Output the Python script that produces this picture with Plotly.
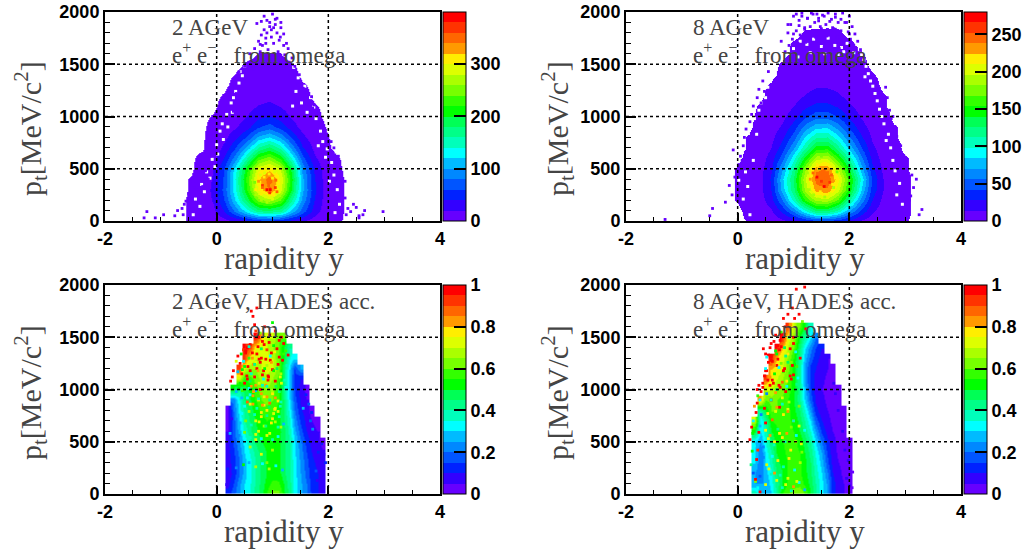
import plotly.graph_objects as go

W, H = 1022, 550
PALETTE = ["#6600ff","#3300ff","#0022ff","#0055ff","#0088ff","#00bbff","#00ffff","#00ffbb","#00ff88","#00ff55",
           "#00ff00","#33ff00","#77ff00","#aaff00","#ddff00","#ffee00","#ff9900","#ff6600","#ff3300","#ff0000"]

PT_ROWS = [0,100,200,300,400,500,600,700,800,900,1000,1100,1200,1300,1400,1500,1600,1700,1800,1900,2000]

# ---- 2 AGeV full
A_Y = [-0.66,-0.46,-0.26,-0.06,0.14,0.34,0.54,0.74,0.94,1.14,1.34,1.54,1.74,1.94,2.14,2.34,2.54]
A_Z = [
[0,2,3,6,12,20,32,46,52,42,30,20,10,5,2,0,0],
[0,2,6,15,40,85,130,170,175,165,115,70,30,10,3,0,0],
[0,2,8,22,60,120,190,250,270,240,165,95,40,12,3,0,0],
[0,1.5,8,25,68,135,220,300,345,290,200,105,45,14,3,0,0],
[0,1.5,7,22,65,140,230,315,350,300,210,105,42,12,3,0,0],
[0,0,5,20,60,130,215,295,312,280,195,95,38,10,2,0,0],
[0,0,3,12,42,90,160,228,250,215,140,68,24,6,1.5,0,0],
[0,0,0,7,25,60,110,163,186,155,96,43,15,2,0,0,0],
[0,0,0,5,15,33,63,104,120,97,57,25,8,1.5,0,0,0],
[0,0,0,3,8,18,33,58,70,53,30,13,5,1,0,0,0],
[0,0,0,1.5,5,10,21,35,42,32,18,8,3,0,0,0,0],
[0,0,0,0,3,7,13,21,25,19,11,5,1.5,0,0,0,0],
[0,0,0,0,1.5,5,8,12,14,11,7,3,0,0,0,0,0],
[0,0,0,0,0,2.5,4,7,8,7,5,1.5,0,0,0,0,0],
[0,0,0,0,0,1.2,3,4,5,4.5,3,0,0,0,0,0,0],
[0,0,0,0,0,0,1.5,2,2,2,1.2,0,0,0,0,0,0],
[0,0,0,0,0,0,0,1.1,1.2,1.1,0,0,0,0,0,0,0],
[0]*17,[0]*17,[0]*17,[0]*17]
A_PY = [-1.3,-1.25,-1.1,-0.95,-0.75,-0.7,-0.62,-0.6,-0.58,-0.5,-0.55,-0.5,-0.45,-0.4,-0.42,-0.35,-0.3,-0.32,-0.25,-0.2,-0.15,-0.1,-0.12,-0.05,-0.02,0.02,0.05,
        2.3,2.35,2.32,2.4,2.45,2.5,2.55,2.62,2.65,2.98,2.55,2.25,2.2,2.22,2.3,2.12,2.18,2.1,2.05,2.08,2.15,
        0.25,0.3,0.35,0.32,0.45,0.4,0.5,0.55,0.58,0.6,0.65,0.68,0.72,0.75,0.78,0.8,0.82,0.85,0.88,0.9,0.92,0.95,0.98,1.0,1.02,1.05,1.08,1.1,1.12,1.15,1.18,1.2,1.22,1.25,1.28,1.3,1.32,1.35,1.38,1.4,1.45,1.48,1.5,1.55,1.58,1.6,1.62,1.65,1.7,1.72,1.75,1.78,0.72,0.78,0.85,0.9,0.95,1.02,1.08,1.14,1.2,1.05,0.98,0.88,0.8,1.25,1.15]
A_PPT = [30,90,30,60,50,100,120,60,160,90,190,260,210,320,380,300,250,440,330,480,400,520,620,700,560,680,800,
         220,120,60,90,160,130,50,60,100,90,30,300,500,420,380,560,620,700,760,640,540,
         1180,1050,1220,1300,1350,1430,1480,1390,1520,1600,1450,1650,1560,1720,1620,1780,1680,1830,1750,1920,1640,1860,1760,1980,1700,1880,1800,1620,1730,1850,1560,1680,1590,1500,1650,1520,1440,1560,1370,1480,1300,1400,1340,1270,1180,1230,1120,1150,1190,1080,1110,1040,1890,1690,1960,1800,1900,1850,1940,1760,1790,1930,1830,1700,1910,1700,1900]
A_HY = [-0.42,-0.38,-0.3,-0.27,-0.22,-0.18,-0.12,-0.08,-0.03,0.0,0.02,0.06,0.12,0.1,0.18,0.2,0.26,0.28,0.34,0.3,0.4,0.42,0.46,0.5,
        2.2,2.16,2.12,2.1,2.06,2.02,1.98,1.95,1.9,1.86,1.82,1.78,1.74,1.68,1.62,1.58,1.52,1.46,1.42,1.38,1.36,2.14,2.0,1.7,1.56]
A_HPT = [60,210,140,350,280,470,410,590,520,730,640,860,780,930,1020,900,1130,1040,1240,1180,1320,1430,1390,1480,
         160,300,80,440,560,380,690,610,760,860,720,980,1090,1180,1040,1290,1130,1370,1240,1470,1100,660,860,1310,1420]
A_NY = [0.7,0.75,0.8,0.82,0.85,0.88,0.9,0.92,0.95,0.98,1.0,1.02,1.05,1.08,1.1,1.12,0.78,0.86,0.94,1.04,0.7,0.8,0.9,1.0,1.1,1.15,0.68,0.82,0.96,1.06]
A_NPT = [300,380,260,340,420,230,300,370,270,340,410,250,320,280,360,330,440,460,450,470,250,200,180,210,240,410,370,320,300,390]
A_NV = [300,330,310,370,300,290,385,350,360,330,300,310,365,340,310,290,290,285,300,280,260,270,260,280,270,280,250,340,390,345]

# ---- 8 AGeV full
B_Y = [-0.2,0,0.2,0.4,0.6,0.8,1.0,1.2,1.4,1.6,1.8,2.0,2.2,2.4,2.6,2.8,3.0,3.2,3.4]
B_Z = [
[0,0,1,2,5,10,18,28,36,38,32,22,12,6,3,1.5,1,0,0],
[0,0,2,5,12,30,60,95,125,125,105,70,38,16,6,3,1.5,0,0],
[0,1,3,8,22,55,105,155,185,190,165,115,65,28,10,4,1.5,0,0],
[0,1,3,10,28,75,125,185,230,235,200,150,85,36,14,5,1.5,0,0],
[0,1,3,10,30,80,130,195,245,250,215,160,95,40,14,5,1.5,0,0],
[0,1,3,9,26,68,118,180,235,240,195,140,78,32,11,3,1,0,0],
[0,0,2,7,20,50,95,145,190,195,155,108,60,24,8,2,1,0,0],
[0,0,1,5,14,35,70,110,148,150,118,80,44,17,6,2,0,0,0],
[0,0,1,3.5,10,24,50,85,110,112,88,58,30,12,4,1,0,0,0],
[0,0,0,2.5,7,16,36,62,80,82,64,40,20,8,3,1,0,0,0],
[0,0,0,1.5,4,10,23,40,52,52,42,26,13,5,2,0,0,0,0],
[0,0,0,1,2.5,6,14,25,32,32,26,16,8,3.5,1,0,0,0,0],
[0,0,0,0,2,4,9,15,20,20,16,10,5.5,2.5,1,0,0,0,0],
[0,0,0,0,1,3,6,9,12,12,10,6,3.5,2,0,0,0,0,0],
[0,0,0,0,0,1.5,4,6,8,8,6,4,2.5,1,0,0,0,0,0],
[0,0,0,0,0,1,2.5,4,5,5,4,3,1.5,0,0,0,0,0,0],
[0,0,0,0,0,0,1.2,1.5,2,2,2,1.5,1,0,0,0,0,0,0],
[0,0,0,0,0,0,1,1.3,1.6,1.6,1.6,1.3,0,0,0,0,0,0,0],
[0,0,0,0,0,0,0,1,1.2,1.3,1.2,0,0,0,0,0,0,0,0],
[0]*19,[0]*19]
B_PY = [-1.3,-0.5,-0.45,-0.22,-0.1,-0.15,-0.05,0.02,0.05,-0.08,-0.02,0.1,0.08,0.12,0.15,0.18,0.22,0.25,0.3,0.28,0.35,0.38,0.42,0.45,0.48,0.55,
        3.0,3.05,3.1,3.15,3.2,3.3,3.25,3.08,3.02,3.12,2.95,2.98,2.92,2.85,2.9,2.82,2.78,2.72,2.75,2.68,2.62,2.65,
        0.8,0.85,0.78,0.9,0.92,0.95,0.98,1.0,1.02,1.05,1.08,1.1,1.12,1.15,1.18,1.2,1.22,1.25,1.28,1.3,1.32,1.35,1.38,1.4,1.42,1.45,1.48,1.5,1.52,1.55,1.58,1.6,1.62,1.65,1.68,1.7,1.72,1.75,1.78,1.8,1.82,1.85,1.88,1.9,1.92,1.95,1.98,2.0,2.02,2.05,2.08,2.1,2.15,2.2,
        0.9,1.0,1.1,1.2,1.3,1.4,1.5,1.6,1.7,1.8,1.9,2.0,1.05,1.15,1.25,1.35,1.45,1.55,1.65,1.75,1.85,1.95,1.2,1.3,1.45,1.6,1.75,1.9]
B_PPT = [15,50,120,180,250,340,420,540,620,680,480,720,580,800,880,760,950,1020,860,1100,1180,1260,1130,1340,1240,1430,
         70,160,240,320,400,110,60,200,290,440,510,620,720,810,680,900,1000,1060,980,1180,1120,1280,
         1500,1620,1720,1800,1680,1880,1740,1960,1600,1820,1700,1920,1780,1990,1640,1850,1710,1940,1590,1800,1990,1680,1900,1760,1980,1620,1860,1730,1970,1660,1880,1790,1990,1700,1930,1620,1840,1980,1750,1900,1650,1820,1990,1720,1900,1640,1810,1960,1740,1860,1680,1790,1720,1640,
         1880,1790,1870,1780,1860,1760,1840,1770,1850,1760,1720,1790,1980,1960,1940,1980,1940,1960,1910,1950,1930,1900,1835,1735,1915,1805,1835,1755]
B_HY = [0.22,0.18,0.28,0.14,0.34,0.1,0.06,0.02,0.3,0.38,0.42,0.46,0.5,0.54,0.58,0.62,0.66,0.7,0.74,0.78,0.82,
        2.95,2.9,2.85,2.82,2.78,2.74,2.7,2.66,2.62,2.58,2.54,2.5,2.46,2.42,2.38,2.34,2.3,2.28,2.26,2.22,2.18,2.12,2.08,
        1.0,1.12,1.24,1.36,1.5,1.62,1.74,1.86,1.96,1.08,1.3,1.56,1.8,1.9]
B_HPT = [60,330,580,470,830,210,640,390,980,1060,1130,1210,1180,1280,1340,1400,1460,1520,1590,1610,1680,
         160,360,250,480,580,700,830,770,930,1000,1070,1150,1220,1290,1340,1410,1480,1380,1540,1590,1640,1690,1610,
         1650,1720,1690,1740,1670,1750,1680,1660,1700,1570,1610,1600,1590,1620]
B_NY = [1.3,1.35,1.4,1.42,1.45,1.48,1.5,1.52,1.55,1.58,1.6,1.62,1.65,1.68,1.7,1.75,1.38,1.46,1.54,1.62,1.28,1.36,1.44,1.56,1.66,1.72,1.25,1.78,1.5,1.58]
B_NPT = [400,460,340,420,500,280,380,450,330,410,490,290,370,440,350,410,540,560,550,570,300,250,210,230,260,320,460,470,620,640]
B_NV = [225,250,235,270,215,220,262,240,275,245,232,225,265,245,222,215,205,200,210,205,190,195,190,195,200,195,190,180,170,175]

# ---- 2 AGeV HADES acceptance (0 = empty bin)
C_Y = [0.1,0.2,0.3,0.4,0.5,0.6,0.7,0.8,0.9,1.0,1.1,1.2,1.3,1.4,1.5,1.6,1.7,1.8,1.9,2.0]
C_PT = [0,100,200,300,400,500,600,700,800,900,1000,1100,1200,1300,1400,1500,1600]
C_Z = [
[0,.12,.18,.25,.3,.36,.42,.48,.55,.62,.62,.52,.42,.33,.27,.2,.14,.1,.05,0],
[0,.08,.15,.24,.3,.35,.41,.47,.52,.57,.56,.5,.42,.33,.26,.2,.13,.1,.08,0],
[0,.06,.12,.2,.28,.34,.4,.46,.5,.52,.52,.47,.4,.32,.25,.18,.12,.1,.08,0],
[0,.07,.13,.2,.28,.34,.4,.46,.5,.52,.52,.46,.4,.32,.24,.17,.11,.09,.08,0],
[0,.08,.14,.22,.3,.36,.42,.47,.5,.52,.51,.46,.4,.31,.23,.15,.1,.08,.06,0],
[0,.08,.16,.25,.32,.4,.46,.5,.52,.52,.51,.47,.4,.3,.21,.13,.08,.06,.03,0],
[0,.05,.18,.28,.36,.44,.49,.52,.53,.53,.52,.47,.38,.27,.17,.1,.07,.05,0,0],
[0,.04,.18,.3,.4,.46,.5,.53,.55,.54,.52,.46,.36,.23,.14,.08,.05,.03,0,0],
[0,.03,.2,.33,.42,.48,.52,.56,.58,.57,.53,.45,.33,.2,.11,.07,.03,0,0,0],
[0,0,.22,.35,.45,.5,.55,.6,.62,.6,.55,.45,.3,.17,.09,.05,0,0,0,0],
[0,0,.5,.4,.47,.52,.58,.63,.65,.62,.56,.44,.28,.15,.08,.03,0,0,0,0],
[0,0,0,.7,.55,.58,.62,.67,.68,.65,.58,.45,.28,.13,.1,0,0,0,0,0],
[0,0,0,.9,.7,.65,.65,.7,.72,.7,.62,.45,.3,.15,.25,0,0,0,0,0],
[0,0,0,0,.9,.75,.7,.7,.72,.7,.6,.5,.35,.3,0,0,0,0,0,0],
[0,0,0,0,.95,.9,.75,.7,.7,.65,.6,.5,.4,0,0,0,0,0,0,0],
[0,0,0,0,0,0,.95,.8,.7,.7,.6,.6,0,0,0,0,0,0,0,0],
[0]*20]
C_PY = [0.62,0.65,0.68,0.72,0.7,0.75,0.78,0.82,0.86,0.9,0.95,1.0,1.05,0.55,0.6,0.52,0.48,0.42,0.38,0.35,0.3,0.28,0.25,0.58,0.64,0.7,0.74,0.8,0.85,0.9,0.94,0.98,1.02,1.08,1.12,1.16,1.2,1.24,1.28,0.45,0.5,0.6,0.66,0.72,0.78,0.84,0.9,0.96,1.0,1.1,0.42,0.55,0.62,0.68,0.76,0.82,0.88,0.93,1.05,1.15,
        0.35,0.4,0.45,0.5,0.55,0.6,0.65,0.7,0.75,0.8,0.85,0.9,0.95,1.0,1.05,1.1,0.7,0.8,0.9,1.0,1.1,0.75,0.85,0.95,1.05,1.15,0.6,0.7,0.8,0.9,1.0,
        1.75,1.8,1.78,1.85,1.82,1.88,1.72,1.68,1.7,1.65,1.55,1.6,1.92,1.95,1.9,1.85,0.2,0.18,0.22,0.24,0.27,
        0.44,0.52,0.58,0.64,0.72,0.8,0.88,0.96,1.04,1.12,1.2,0.48,0.56,0.68,0.76,0.86,0.98,1.08,1.18,1.26,0.38,0.46,0.54,0.62,0.74,0.84,0.92,1.02,1.14,1.22,0.5,0.6,0.7,0.82,0.92,1.06,1.16,1.24,0.46,0.58,0.66,0.78,0.9,1.0,1.12,
        0.55,0.65,0.75,0.85,0.95,1.05,1.15,0.5,0.6,0.72,0.82,0.94,1.04,1.14,0.45,0.58,0.68,0.8,0.9,1.02,1.12,0.42,0.52,0.62,0.76,0.88,0.98,1.1,1.2,0.4,0.5,0.6,0.7,0.8,0.9,1.0,1.1,0.35,0.48,0.58,0.7,0.82,0.94,1.06,1.18]
C_PPT = [1750,1700,1620,1780,1560,1500,1540,1460,1600,1490,1520,1640,1560,1400,1430,1350,1380,1250,1320,1270,1180,1120,1080,1300,1350,1260,1410,1300,1430,1380,1450,1350,1420,1390,1470,1500,1440,1370,1330,1150,1220,1180,1240,1200,1260,1180,1230,1280,1190,1240,1060,1100,1030,1120,1060,1140,1040,1120,1080,1150,
         980,1010,920,1000,880,950,860,990,900,960,850,930,870,960,820,890,700,740,800,720,790,600,650,580,690,640,450,520,380,300,420,
         60,130,220,300,400,480,620,700,780,860,820,950,380,300,120,480,240,90,430,580,720,
         1340,1370,1410,1300,1340,1390,1290,1320,1360,1310,1340,1270,1220,1240,1290,1200,1260,1200,1280,1230,1170,1190,1130,1150,1180,1100,1130,1180,1120,1090,1060,1080,1040,1040,1090,1030,1060,1020,990,1010,980,1000,1030,990,980,
         920,940,910,930,900,920,880,840,860,820,850,830,810,840,770,790,760,780,750,770,740,680,700,660,690,650,680,640,670,560,590,540,570,530,560,520,550,250,280,300,260,290,240,270,230]
C_PV = [.98,.98,.95,.98,.9,.98,.6,.98,.98,.7,.98,.5,.98,.98,.98,.98,.9,.98,.98,.7,.98,.98,.98,.55,.98,.7,.98,.98,.98,.9,.98,.98,.5,.98,.98,.98,.98,.55,.98,.98,.5,.98,.8,.98,.98,.98,.65,.98,.98,.98,
        .5,.98,.8,.98,.7,.98,.8,.98,.98,.65,.25,.5,.25,.55,.85,.3,.8,.25,.75,.8,.75,.8,.85,.75,.7,.78,.72,.75,.78,.75,.72,.7,.65,.7,.65,.65,.65,.7,.7,.62,.65,
        .12,.07,.15,.05,.1,.12,.2,.15,.1,.15,.25,.1,.05,.12,.08,.08,.12,.05,.05,.28,.05,
        .5,.98,.35,.8,.98,.45,.98,.3,.75,.98,.55,.3,.98,.4,.98,.5,.8,.45,.98,.35,.25,.5,.98,.35,.8,.3,.98,.5,.7,.35,.98,.45,.8,.35,.98,.45,.7,.3,.55,.3,.8,.98,.35,.65,.4,
        .3,.8,.35,.75,.4,.8,.35,.3,.75,.35,.8,.45,.75,.35,.3,.65,.35,.75,.4,.7,.35,.25,.6,.35,.7,.4,.75,.35,.25,.2,.6,.35,.7,.3,.7,.35,.3,.2,.5,.28,.65,.3,.65,.3,.25]

# ---- 8 AGeV HADES acceptance (0 = empty bin)
D_Y = [0.1,0.2,0.3,0.4,0.5,0.6,0.7,0.8,0.9,1.0,1.1,1.2,1.3,1.4,1.5,1.6,1.7,1.8,1.9,2.0,2.1]
D_PT = [0,100,200,300,400,500,600,700,800,900,1000,1100,1200,1300,1400,1500,1600,1700,1800]
D_Z = [
[0,0,.4,.3,.25,.3,.42,.55,.6,.62,.65,.6,.5,.4,.32,.24,.12,.08,.05,.04,0],
[0,0,.25,.25,.25,.33,.42,.5,.55,.58,.58,.54,.48,.4,.32,.24,.12,.07,.05,.04,0],
[0,0,.25,.22,.28,.35,.45,.5,.55,.56,.56,.52,.46,.38,.3,.2,.1,.06,.04,.04,0],
[0,0,.3,.2,.3,.38,.48,.52,.55,.56,.56,.52,.45,.36,.28,.16,.08,.05,.04,.03,0],
[0,0,.3,.2,.32,.4,.5,.54,.56,.56,.55,.5,.43,.34,.25,.14,.07,.04,.04,.03,0],
[0,0,.3,.25,.35,.45,.52,.55,.56,.56,.54,.48,.4,.3,.2,.11,.06,.04,.04,.03,0],
[0,0,.5,.3,.38,.5,.54,.56,.56,.55,.5,.44,.35,.25,.14,.08,.05,.04,.03,0,0],
[0,0,.7,.3,.42,.55,.56,.56,.56,.54,.48,.4,.3,.18,.1,.06,.04,.04,.03,0,0],
[0,0,0,.4,.5,.6,.6,.58,.57,.52,.45,.36,.24,.12,.07,.05,.04,.03,.03,0,0],
[0,0,0,.8,.6,.62,.6,.58,.55,.5,.42,.3,.18,.09,.06,.04,.04,.03,0,0,0],
[0,0,0,0,.7,.7,.65,.62,.58,.52,.42,.28,.15,.08,.05,.04,.04,.03,0,0,0],
[0,0,0,0,.9,.75,.7,.65,.6,.52,.4,.25,.13,.08,.06,.04,.03,0,0,0,0],
[0,0,0,0,0,.8,.75,.7,.62,.52,.4,.25,.13,.1,.07,.05,.03,0,0,0,0],
[0,0,0,0,0,.95,.8,.72,.65,.55,.42,.28,.18,.12,.08,.05,0,0,0,0,0],
[0,0,0,0,0,0,.95,.8,.7,.6,.45,.32,.22,.15,.1,0,0,0,0,0,0],
[0,0,0,0,0,0,0,.95,.75,.65,.5,.4,.3,.2,0,0,0,0,0,0,0],
[0,0,0,0,0,0,0,0,.9,.7,.6,.5,.35,0,0,0,0,0,0,0,0],
[0]*21,[0]*21]
D_PY = [1.05,1.2,0.98,1.02,1.1,1.16,1.22,0.85,0.9,0.78,0.82,0.95,1.0,0.72,0.68,0.75,0.65,0.6,0.58,0.55,0.5,0.52,0.62,0.7,0.48,0.45,0.42,0.38,0.36,0.35,0.3,0.33,0.28,0.25,0.27,0.22,0.3,0.26,0.24,0.28,0.32,0.36,0.4,
        0.55,0.6,0.66,0.72,0.78,0.84,0.9,0.96,1.0,1.06,1.12,0.5,0.58,0.64,0.7,0.76,0.82,0.88,0.94,1.02,0.45,0.52,0.6,0.68,0.74,0.8,0.86,0.92,0.35,0.4,0.48,0.54,0.62,0.68,0.75,0.82,0.9,1.0,1.1,0.4,0.5,0.58,0.66,0.72,0.8,0.88,0.96,1.04,1.14,
        1.95,2.0,2.02,2.05,1.98,2.06,1.92,1.9,1.88,1.85,1.8,1.82,1.75,1.72,
        0.46,0.52,0.6,0.68,0.76,0.84,0.92,1.0,0.5,0.62,0.7,0.78,0.86,0.94,1.04,0.54,0.66,0.74,0.82,0.9,0.98,1.08,0.58,0.7,0.8,0.88,0.96,1.06,
        0.42,0.5,0.6,0.7,0.8,0.9,1.0,1.1,1.2,0.38,0.46,0.55,0.65,0.75,0.85,0.95,1.05,1.15,0.34,0.42,0.52,0.62,0.72,0.82,0.92,1.02,1.12,0.32,0.4,0.5,0.6,0.7,0.8,0.9,1.0,1.1,1.2,0.36,0.46,0.56,0.66,0.76,0.86,0.96,1.06]
D_PPT = [1960,1980,1780,1680,1720,1650,1580,1600,1720,1550,1680,1620,1500,1420,1520,1380,1460,1320,1400,1260,1340,1180,1090,1230,1130,1060,980,1040,940,870,840,780,700,640,580,520,460,410,280,200,120,60,20,
         1330,1280,1230,1290,1250,1200,1340,1260,1140,1220,1300,1180,1120,1060,1110,1020,1170,1080,1130,1240,1020,960,900,970,1040,920,980,880,1000,900,820,770,710,790,830,760,810,700,840,650,610,560,500,620,540,580,640,500,480,
         150,80,250,60,320,210,420,520,600,700,800,880,960,1060,
         1390,1310,1440,1370,1470,1400,1500,1440,1200,1270,1340,1410,1320,1390,1360,1090,1150,1210,1180,1260,1230,1110,1040,1000,1070,1030,1100,1050,
         760,680,900,830,860,790,700,650,610,590,450,530,470,580,500,420,560,400,330,390,280,360,320,260,340,230,300,140,170,90,190,130,60,150,70,110,40,420,350,240,200,180,90,30,120]
D_PV = [.98,.98,.98,.98,.98,.6,.98,.98,.98,.55,.98,.8,.98,.98,.98,.98,.98,.98,.98,.98,.98,.98,.98,.98,.98,.98,.98,.98,.55,.98,.8,.98,.3,.98,.5,.98,.3,.5,.4,.15,.6,.3,.98,
         .98,.98,.8,.98,.6,.98,.75,.6,.98,.55,.98,.98,.8,.98,.7,.98,.55,.75,.98,.5,.98,.2,.98,.8,.98,.7,.98,.65,.98,.3,.98,.75,.85,.7,.98,.75,.7,.85,.6,.25,.75,.8,.75,.4,.75,.8,.6,.7,.7,
         .05,.05,.03,.03,.05,.03,.05,.03,.05,.03,.05,.03,.05,.05,
         .98,.3,.98,.5,.98,.45,.35,.98,.3,.98,.5,.98,.4,.98,.3,.98,.5,.3,.98,.45,.98,.3,.98,.45,.85,.3,.98,.4,
         .2,.98,.35,.8,.35,.8,.35,.7,.3,.98,.2,.7,.35,.75,.35,.75,.3,.6,.98,.2,.7,.3,.75,.35,.75,.3,.65,.98,.15,.7,.35,.7,.35,.7,.8,.3,.25,.9,.2,.7,.8,.35,.7,.35,.7]

assert len(A_PY) == len(A_PPT) and len(A_NY) == len(A_NPT) == len(A_NV) and len(A_HY) == len(A_HPT)
assert len(B_PY) == len(B_PPT) and len(B_NY) == len(B_NPT) == len(B_NV) and len(B_HY) == len(B_HPT)
assert len(C_PY) == len(C_PPT) == len(C_PV), (len(C_PY), len(C_PPT), len(C_PV))
assert len(D_PY) == len(D_PPT) == len(D_PV), (len(D_PY), len(D_PPT), len(D_PV))

# ---- shared axes / labels
X_RANGE = [-2, 4]
PT_RANGE = [0, 2000]
X_TICKS = [-2, 0, 2, 4]
X_TICK_TEXT = ["-2", "0", "2", "4"]
PT_TICKS = [0, 500, 1000, 1500, 2000]
GRID_X = [0, 2]
GRID_PT = [500, 1000, 1500]
Y_TITLE = "p<sub>t</sub>[MeV/c<sup>2</sup>]"
X_TITLE = "rapidity y"
SERIES_LINE = "e<sup>+</sup> e<sup>−</sup>&nbsp;&nbsp;&nbsp;from omega"

def holes(rows):
    return [[None if v == 0 else v for v in r] for r in rows]

PANELS = [
    dict(x=A_Y, y=PT_ROWS, z=A_Z, zmax=399, cut=1.0, ticks=[0,100,200,300], px=(105,440,12,221), bar=443, title="2 AGeV",
         py=A_PY+A_NY, ppt=A_PPT+A_NPT, pv=[10]*len(A_PY)+A_NV, hy=A_HY, hpt=A_HPT, tx=30, ty=129),
    dict(x=B_Y, y=PT_ROWS, z=B_Z, zmax=280, cut=0.7, ticks=[0,50,100,150,200,250], px=(626,961,12,221), bar=964, title="8 AGeV",
         py=B_PY+B_NY, ppt=B_PPT+B_NPT, pv=[7]*len(B_PY)+B_NV, hy=B_HY, hpt=B_HPT, tx=557, ty=129),
    dict(x=C_Y, y=C_PT, z=holes(C_Z), zmax=1, cut=None, ticks=[0,.2,.4,.6,.8,1], px=(105,440,285,494), bar=443, title="2 AGeV, HADES acc.",
         py=C_PY, ppt=C_PPT, pv=C_PV, hy=[], hpt=[], tx=30, ty=393),
    dict(x=D_Y, y=D_PT, z=holes(D_Z), zmax=1, cut=None, ticks=[0,.2,.4,.6,.8,1], px=(626,961,285,494), bar=964, title="8 AGeV, HADES acc.",
         py=D_PY, ppt=D_PPT, pv=D_PV, hy=[], hpt=[], tx=557, ty=393),
]

def scale(cut=None):
    s = []
    if cut:
        s += [[0, "#ffffff"], [cut, "#ffffff"], [cut, PALETTE[0]]]
    else:
        s += [[0, PALETTE[0]]]
    for i, c in enumerate(PALETTE):
        if i:
            s.append([i/20, c])
        s.append([(i+1)/20, c])
    return s

BOLD = dict(family="Liberation Sans", size=18, color="black", weight="bold")
SERIF = "Liberation Serif"
TXT = "#444444"

fig = go.Figure()
layout = dict(width=W, height=H, margin=dict(l=0, r=0, t=0, b=0, autoexpand=False), paper_bgcolor="white", plot_bgcolor="white",
              showlegend=False, shapes=[], annotations=[])
for i, p in enumerate(PANELS, 1):
    x0, x1, y0, y1 = p["px"]
    xa, ya = f"x{i}", f"y{i}"
    cut = p["cut"]/p["zmax"] if p["cut"] else None
    fig.add_trace(go.Heatmap(x=p["x"], y=p["y"], z=p["z"], zmin=0, zmax=p["zmax"], zsmooth="best", showscale=False,
                             colorscale=scale(cut), hoverinfo="skip", xaxis=xa, yaxis=ya))
    if p["hy"]:
        fig.add_trace(go.Scatter(x=p["hy"], y=p["hpt"], mode="markers", xaxis=xa, yaxis=ya, hoverinfo="skip",
                                 marker=dict(symbol="square", size=3, color="white", line=dict(width=0))))
    fig.add_trace(go.Scatter(x=p["py"], y=p["ppt"], mode="markers", xaxis=xa, yaxis=ya, hoverinfo="skip",
                             marker=dict(symbol="square", size=2.8, color=p["pv"], cmin=0, cmax=p["zmax"],
                                         colorscale=scale(), showscale=True, line=dict(width=0),
                                         colorbar=dict(x=p["bar"]/W, xanchor="left", y=1-y1/H, yanchor="bottom", len=(y1-y0)/H,
                                                       thickness=23, xpad=0, ypad=0, tickvals=p["ticks"], ticks="inside",
                                                       ticklen=12, tickwidth=2, tickcolor="black", tickfont=BOLD,
                                                       outlinewidth=1, outlinecolor="black"))))
    common = dict(showline=True, mirror=True, linecolor="black", linewidth=2, showgrid=False, zeroline=False,
                  tickfont=BOLD, ticks="inside", tickcolor="black", tickwidth=1.5, layer="above traces")
    layout[f"xaxis{i if i>1 else ''}"] = dict(domain=[x0/W, x1/W], range=X_RANGE, tickvals=X_TICKS, ticktext=X_TICK_TEXT, ticklen=8, anchor=ya,
                                             minor=dict(dtick=0.5, ticks="inside", ticklen=4, tickcolor="black", tickwidth=1), **common)
    layout[f"yaxis{i if i>1 else ''}"] = dict(domain=[1-y1/H, 1-y0/H], range=PT_RANGE, tickvals=PT_TICKS, ticklen=10, anchor=xa,
                                             minor=dict(dtick=100, ticks="inside", ticklen=5, tickcolor="black", tickwidth=1), **common)
    for g in GRID_X:
        layout["shapes"].append(dict(type="line", xref=xa, yref=ya, x0=g, x1=g, y0=PT_RANGE[0], y1=PT_RANGE[1],
                                     line=dict(color="black", width=1.5, dash="dot"), layer="above"))
    for g in GRID_PT:
        layout["shapes"].append(dict(type="line", xref=xa, yref=ya, x0=X_RANGE[0], x1=X_RANGE[1], y0=g, y1=g,
                                     line=dict(color="black", width=1.5, dash="dot"), layer="above"))
    ann = layout["annotations"]
    def add(text, xp, yp, size, angle=0, anchor="left"):
        ann.append(dict(text=text, x=xp/W, y=1-yp/H, xref="paper", yref="paper", showarrow=False, xanchor=anchor,
                        yanchor="middle", textangle=angle, font=dict(family=SERIF, size=size, color=TXT)))
    add(p["title"], x0+65, y0+16, 23)
    add(SERIES_LINE, x0+65, y0+42, 23)
    add(X_TITLE, (x0+x1)/2 + 11, y1+37, 31, anchor="center")
    add(Y_TITLE, p["tx"], p["ty"], 30, angle=-90, anchor="center")

fig.update_layout(**layout)
fig.write_html("out.html", config={"displayModeBar": False},
               post_script="document.body.style.margin='0';document.documentElement.style.overflow='hidden';")
